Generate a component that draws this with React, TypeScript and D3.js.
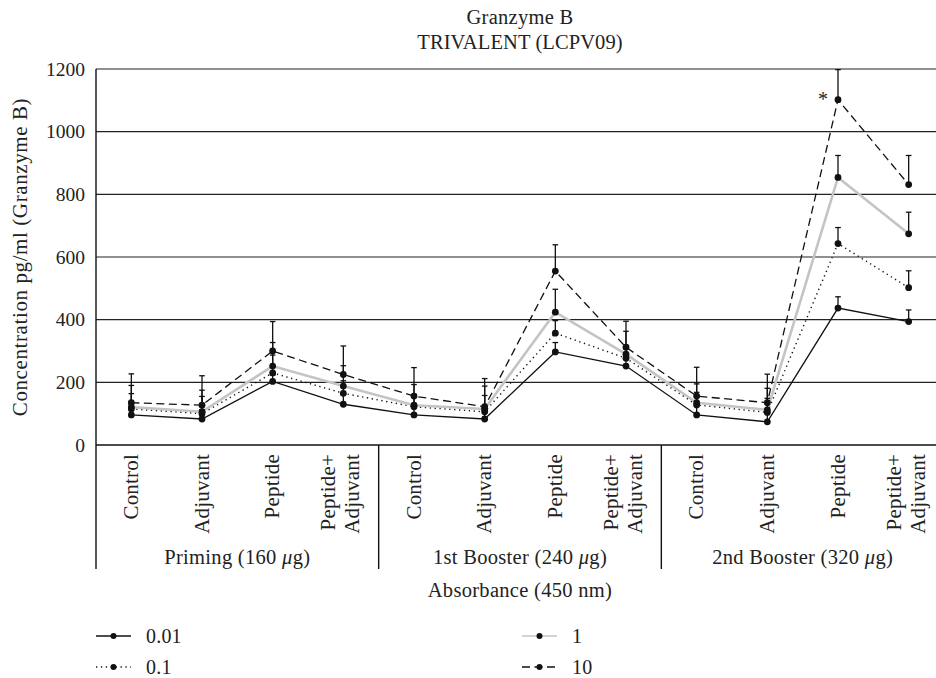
import React from "react";
import * as d3 from "d3";

const groups = ["Priming", "1st Booster", "2nd Booster"];
const groupDoses = ["160", "240", "320"];
const treatments = ["Control", "Adjuvant", "Peptide", "Peptide+|Adjuvant"];
const yTicks = [0, 200, 400, 600, 800, 1000, 1200];

const seriesNames = ["0.01", "0.1", "1", "10"];
const s001 = [96, 83, 203, 130, 96, 83, 297, 252, 96, 74, 437, 394];
const s01 = [115, 100, 230, 165, 122, 106, 357, 277, 128, 104, 643, 502];
const s1 = [121, 106, 252, 188, 127, 115, 424, 290, 135, 112, 854, 674];
const s10 = [135, 127, 300, 225, 156, 122, 555, 312, 156, 135, 1102, 831];
const e001 = [35, 30, 20, 30, 30, 25, 30, 25, 30, 30, 36, 37];
const e01 = [49, 55, 57, 40, 39, 52, 40, 30, 40, 45, 51, 54];
const e1 = [69, 69, 75, 65, 66, 73, 73, 73, 60, 69, 70, 69];
const e10 = [92, 94, 94, 91, 91, 90, 84, 83, 92, 91, 96, 93];

const W = 936;
const H = 678;
const FONT = "'Liberation Serif', 'Times New Roman', serif";
const TXT = "#222";

export default function App() {
  const categories = groups.flatMap((g, gi) => treatments.map((t, ti) => `${gi}-${ti}`));
  const x = d3.scaleBand<string>().domain(categories).range([96, 944]).padding(0);
  const y = d3.scaleLinear().domain([0, 1200]).range([445, 69]);
  const cx = (i: number) => (x(categories[i]) as number) + x.bandwidth() / 2;

  const series = [
    { name: seriesNames[0], vals: s001, err: e001, stroke: "#111", width: 1.3, dash: undefined as string | undefined },
    { name: seriesNames[1], vals: s01, err: e01, stroke: "#111", width: 1.4, dash: "1.3,3.6" },
    { name: seriesNames[2], vals: s1, err: e1, stroke: "#c4c4c4", width: 2.6, dash: undefined },
    { name: seriesNames[3], vals: s10, err: e10, stroke: "#111", width: 1.3, dash: "8,4.5" },
  ];

  const line = d3
    .line<number>()
    .x((_, i) => cx(i))
    .y((d) => y(d));

  const groupW = x.bandwidth() * treatments.length;
  const sepXs = groups.map((_, gi) => 96 + gi * groupW);

  const legendPos = [
    { x: 96, y: 636 },
    { x: 96, y: 667 },
    { x: 522, y: 636 },
    { x: 522, y: 667 },
  ];

  return (
    <svg
      width={W}
      height={H}
      style={{ position: "absolute", left: 0, top: 0, background: "#fff" }}
      fontFamily={FONT}
    >
      <rect x={0} y={0} width={W} height={H} fill="#fff" />
      {/* titles */}
      <text x={520} y={24} textAnchor="middle" fontSize={20.5} letterSpacing={0.3} fill={TXT}>Granzyme B</text>
      <text x={520} y={48.5} textAnchor="middle" fontSize={20.5} letterSpacing={0.1} fill={TXT}>TRIVALENT (LCPV09)</text>

      {/* gridlines */}
      {yTicks.map((t) => (
        <g key={t}>
          {t > 0 && <line x1={96} x2={944} y1={y(t)} y2={y(t)} stroke="#222" strokeWidth={1.2} />}
          <text x={85} y={y(t)} dy="0.35em" textAnchor="end" fontSize={19.5} fill={TXT}>{t}</text>
        </g>
      ))}
      {/* y axis label */}
      <text
        transform={`translate(27,${(y(0) + y(1200)) / 2}) rotate(-90)`}
        textAnchor="middle"
        fontSize={21}
        letterSpacing={0.6}
        fill={TXT}
      >
        Concentration pg/ml (Granzyme B)
      </text>

      {/* x axis and separators */}
      <line x1={96} x2={944} y1={y(0)} y2={y(0)} stroke="#111" strokeWidth={1.6} />
      {sepXs.map((sx, i) => (
        <line key={i} x1={sx} x2={sx} y1={i === 0 ? 69 : y(0)} y2={569} stroke="#111" strokeWidth={1.4} />
      ))}

      {/* category labels */}
      {categories.map((c, i) => {
        const label = treatments[i % treatments.length];
        const parts = label.split("|");
        const center = cx(i);
        if (parts.length === 1) {
          return (
            <text
              key={c}
              transform={`translate(${center + 6.5},454) rotate(-90)`}
              textAnchor="end"
              fontSize={21}
              letterSpacing={0.2}
              fill={TXT}
            >
              {label}
            </text>
          );
        }
        return (
          <g key={c}>
            <text transform={`translate(${center - 8},454) rotate(-90)`} textAnchor="end" fontSize={21} letterSpacing={0.2} fill={TXT}>{parts[0]}</text>
            <text transform={`translate(${center + 16},454) rotate(-90)`} textAnchor="end" fontSize={21} letterSpacing={0.2} fill={TXT}>{parts[1]}</text>
          </g>
        );
      })}

      {/* group labels */}
      {groups.map((g, gi) => (
        <text key={g} x={sepXs[gi] + groupW / 2} y={564} textAnchor="middle" fontSize={20.5} letterSpacing={0.3} fill={TXT}>
          {g} ({groupDoses[gi]} <tspan fontStyle="italic">μ</tspan>g)
        </text>
      ))}
      <text x={520} y={597} textAnchor="middle" fontSize={20.5} letterSpacing={0.3} fill={TXT}>Absorbance (450 nm)</text>

      {/* lines */}
      {series.map((s) => (
        <path
          key={s.name}
          d={line(s.vals) as string}
          fill="none"
          stroke={s.stroke}
          strokeWidth={s.width}
          strokeDasharray={s.dash}
        />
      ))}
      {/* error bars */}
      {series.map((s) => (
        <g key={"e" + s.name}>
          {s.vals.map((v, i) => (
            <g key={i}>
              <line x1={cx(i)} x2={cx(i)} y1={y(v)} y2={y(v + s.err[i])} stroke="#111" strokeWidth={1.3} />
              <line x1={cx(i) - 2.8} x2={cx(i) + 2.8} y1={y(v + s.err[i])} y2={y(v + s.err[i])} stroke="#111" strokeWidth={1.3} />
            </g>
          ))}
        </g>
      ))}
      {/* points */}
      {series.map((s) => (
        <g key={"p" + s.name}>
          {s.vals.map((v, i) => (
            <circle key={i} cx={cx(i)} cy={y(v)} r={3.4} fill="#111" />
          ))}
        </g>
      ))}
      {/* significance */}
      <text x={cx(10) - 15} y={y(s10[10]) + 6} textAnchor="middle" fontSize={20} fill={TXT}>*</text>

      {/* legend */}
      {series.map((s, i) => {
        const p = legendPos[i];
        return (
          <g key={"l" + s.name}>
            <line x1={p.x} x2={p.x + 35} y1={p.y} y2={p.y} stroke={s.stroke} strokeWidth={s.width === 2.6 ? 1.5 : s.width} strokeDasharray={s.dash} />
            <circle cx={p.x + 17.5} cy={p.y} r={3} fill="#111" />
            <text x={p.x + 50} y={p.y} dy="0.35em" fontSize={20} letterSpacing={0.2} fill={TXT}>{s.name}</text>
          </g>
        );
      })}
    </svg>
  );
}
